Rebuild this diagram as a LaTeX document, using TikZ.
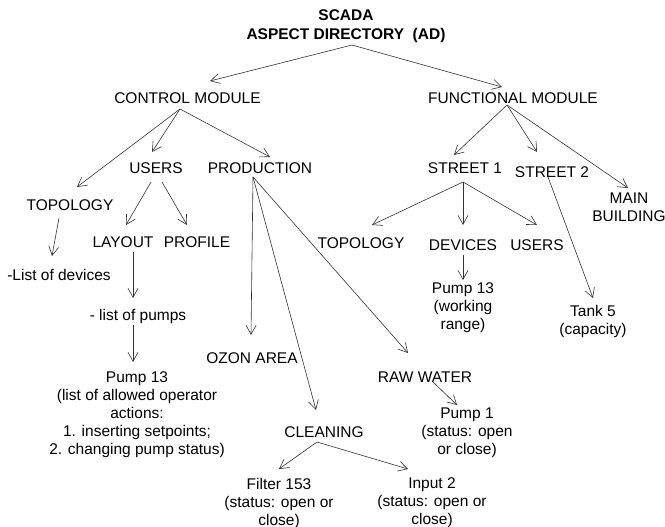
\documentclass[tikz,border=0pt]{standalone}
\usepackage{fontspec}
\setmainfont{Liberation Sans}
\usetikzlibrary{arrows.meta}
\begin{document}
\begin{tikzpicture}[x=1pt,y=-1pt,
  lbl/.style={inner sep=0pt, outer sep=0pt, font=\fontsize{15.5}{18}\selectfont, anchor=base},
  multi/.style={lbl, anchor=north, align=center},
  arr/.style={draw=black!80, line width=0.6pt, -{Straight Barb[length=9pt,width=10pt,line width=0.6pt]}}]
\useasboundingbox (0,0) rectangle (665,527);
% nodes
\node[multi, font=\fontsize{15.5}{19}\selectfont\bfseries] (title) at (346,10) {SCADA\\ASPECT DIRECTORY~~(AD)};
\node[lbl] (cm) at (187.5,103) {CONTROL MODULE};
\node[lbl] (fm) at (513,103) {FUNCTIONAL MODULE};
\node[lbl] (users) at (156,173) {USERS};
\node[lbl] (prod) at (260,173) {PRODUCTION};
\node[lbl] (st1) at (465,173) {STREET 1};
\node[lbl] (st2) at (552,177) {STREET 2};
\node[multi] (main) at (629,193) {MAIN\\BUILDING};
\node[lbl] (topL) at (70,210) {TOPOLOGY};
\node[lbl] (layout) at (123,247) {LAYOUT};
\node[lbl] (profile) at (197,247) {PROFILE};
\node[lbl] (topR) at (361,248) {TOPOLOGY};
\node[lbl] (devices) at (463,250) {DEVICES};
\node[lbl] (usersR) at (537,250) {USERS};
\node[lbl] (listdev) at (59,280) {-List of devices};
\node[multi] (pumpR) at (463,283) {Pump 13\\(working\\range)};
\node[multi] (tank) at (593,305) {Tank 5\\(capacity)};
\node[lbl] (listpumps) at (138,320) {- list of pumps};
\node[lbl] (ozon) at (252,363) {OZON AREA};
\node[multi] (pumpL) at (137,372) {Pump 13\\(list of allowed operator\\actions:\\1. inserting setpoints;\\2. changing pump status)};
\node[lbl] (raw) at (425,382) {RAW WATER};
\node[multi] (pump1) at (467,408) {Pump 1\\(status: open\\or close)};
\node[lbl] (clean) at (324,437) {CLEANING};
\node[multi] (filter) at (279,478) {Filter 153\\(status: open or\\close)};
\node[multi] (input) at (432,478) {Input 2\\(status: open or\\close)};
% connectors
\draw[arr] ([shift={(6,35)}]title.north) -- ([shift={(22.5,-22)}]cm.base);
\draw[arr] ([shift={(6,35)}]title.north) -- ([shift={(-11,-16)}]fm.base);
\draw[arr] ([shift={(-7.5,6)}]cm.base) -- ([shift={(7,-23)}]topL.base);
\draw[arr] ([shift={(-7.5,6)}]cm.base) -- ([shift={(-4,-21)}]users.base);
\draw[arr] ([shift={(-7.5,6)}]cm.base) -- ([shift={(10,-16)}]prod.base);
\draw[arr] ([shift={(-6,2)}]fm.base) -- ([shift={(-11,-18)}]st1.base);
\draw[arr] ([shift={(-6,2)}]fm.base) -- ([shift={(-15,-25)}]st2.base);
\draw[arr] ([shift={(-6,2)}]fm.base) -- ([shift={(-1,-5)}]main.north);
\draw[arr] ([shift={(-5,9)}]users.base) -- ([shift={(3,-22)}]layout.base);
\draw[arr] ([shift={(6,9)}]users.base) -- ([shift={(-10,-22)}]profile.base);
\draw[arr] ([shift={(-11,8)}]topL.base) -- ([shift={(-7,-24)}]listdev.base);
\draw[arr] ([shift={(10,5)}]layout.base) -- ([shift={(-5,-22)}]listpumps.base);
\draw[arr] ([shift={(-5,5)}]listpumps.base) -- ([shift={(-4,-10)}]pumpL.north);
\draw[arr] ([shift={(-7,4)}]prod.base) -- ([shift={(-1,-28)}]ozon.base);
\draw[arr] ([shift={(-7,4)}]prod.base) -- ([shift={(-8,-27)}]clean.base);
\draw[arr] ([shift={(-7,4)}]prod.base) -- ([shift={(-17,-29)}]raw.base);
\draw[arr] ([shift={(8,0)}]raw.base) -- ([shift={(-10,-3)}]pump1.north);
\draw[arr] ([shift={(-7,5)}]clean.base) -- ([shift={(0,-9)}]filter.north);
\draw[arr] ([shift={(-7,5)}]clean.base) -- ([shift={(-24,-9)}]input.north);
\draw[arr] ([shift={(-2,9)}]st1.base) -- ([shift={(11,-23)}]topR.base);
\draw[arr] ([shift={(-2,9)}]st1.base) -- ([shift={(0,-25)}]devices.base);
\draw[arr] ([shift={(-2,9)}]st1.base) -- ([shift={(0,-25)}]usersR.base);
\draw[arr] ([shift={(0,5)}]devices.base) -- ([shift={(0,-3)}]pumpR.north);
\draw[arr] ([shift={(-4,0)}]st2.base) -- ([shift={(0,-7)}]tank.north);
\end{tikzpicture}
\end{document}
